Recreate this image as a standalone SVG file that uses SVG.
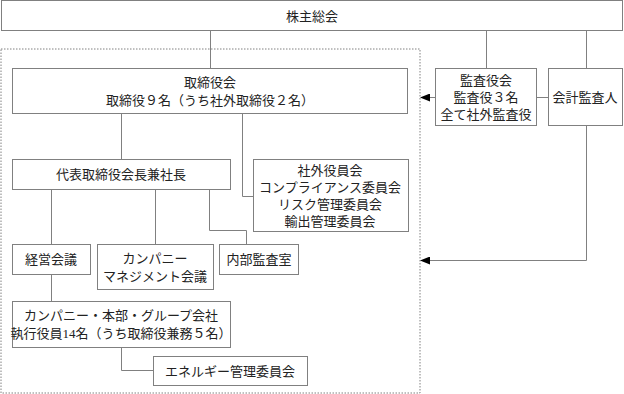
<svg xmlns="http://www.w3.org/2000/svg" width="624" height="394" viewBox="0 0 624 394">
<style>
.box{fill:#fff;stroke:#808080;stroke-width:1}
.ln{fill:none;stroke:#808080;stroke-width:1}
.dot{fill:none;stroke:#808080;stroke-width:1;stroke-dasharray:1.5 1.5}
text{font-family:"Liberation Serif","Noto Sans CJK JP","Noto Sans CJK SC",sans-serif;font-size:13px;fill:#222;text-anchor:middle;dominant-baseline:central}
</style>
<defs>
<marker id="ah" markerWidth="10" markerHeight="8" refX="9" refY="4" orient="auto" markerUnits="userSpaceOnUse">
<path d="M0,0 L10,4 L0,8 Z" fill="#000"/>
</marker>
</defs>
<rect class="dot" x="1" y="49" width="419" height="344"/>
<g id="connectors">
<path class="ln" d="M210.5,30 V68"/>
<path class="ln" d="M486.5,30 V68"/>
<path class="ln" d="M586.5,30 V68"/>
<path class="ln" d="M537,97.5 H548"/>
<path class="ln" d="M435,97.5 H421" marker-end="url(#ah)"/>
<path class="ln" d="M586.5,125 V260.5 H421" marker-end="url(#ah)"/>
<path class="ln" d="M121.5,114 V159"/>
<path class="ln" d="M242.5,114 V196.5 H253"/>
<path class="ln" d="M51.5,189 V244"/>
<path class="ln" d="M155.5,189 V244"/>
<path class="ln" d="M209.5,189 V230.5 H246.5 V244"/>
<path class="ln" d="M51.5,274 V301"/>
<path class="ln" d="M121.5,347 V370.5 H153"/>
</g>
<g id="n-shareholders"><rect class="box" x="1.5" y="0.5" width="621" height="30"/><text x="312" y="16">株主総会</text></g>
<g id="n-board"><rect class="box" x="12.5" y="68.5" width="395" height="45"/><text x="210" y="82">取締役会<tspan x="210" dy="18">取締役９名（うち社外取締役２名）</tspan></text></g>
<g id="n-auditors"><rect class="box" x="435.5" y="68.5" width="101" height="57"/><text x="486" y="80">監査役会<tspan x="486" dy="17">監査役３名</tspan><tspan x="486" dy="17">全て社外監査役</tspan></text></g>
<g id="n-accountant"><rect class="box" x="548.5" y="68.5" width="74" height="57"/><text x="585" y="97">会計監査人</text></g>
<g id="n-president"><rect class="box" x="12.5" y="159.5" width="218" height="30"/><text x="121" y="174">代表取締役会長兼社長</text></g>
<g id="n-committees"><rect class="box" x="253.5" y="159.5" width="155" height="72"/><text x="330" y="170">社外役員会<tspan x="330" dy="17">コンプライアンス委員会</tspan><tspan x="330" dy="17">リスク管理委員会</tspan><tspan x="330" dy="17">輸出管理委員会</tspan></text></g>
<g id="n-mgmt"><rect class="box" x="12.5" y="244.5" width="78" height="30"/><text x="51" y="259">経営会議</text></g>
<g id="n-company-mgmt"><rect class="box" x="97.5" y="244.5" width="116" height="45"/><text x="155" y="258">カンパニー<tspan x="155" dy="18">マネジメント会議</tspan></text></g>
<g id="n-internal-audit"><rect class="box" x="219.5" y="244.5" width="79" height="30"/><text x="259" y="259">内部監査室</text></g>
<g id="n-officers"><rect class="box" x="12.5" y="301.5" width="218" height="46"/><text x="121" y="315">カンパニー・本部・グループ会社<tspan x="121" dy="18">執行役員14名（うち取締役兼務５名）</tspan></text></g>
<g id="n-energy"><rect class="box" x="153.5" y="356.5" width="154" height="29"/><text x="230" y="371">エネルギー管理委員会</text></g>
</svg>
